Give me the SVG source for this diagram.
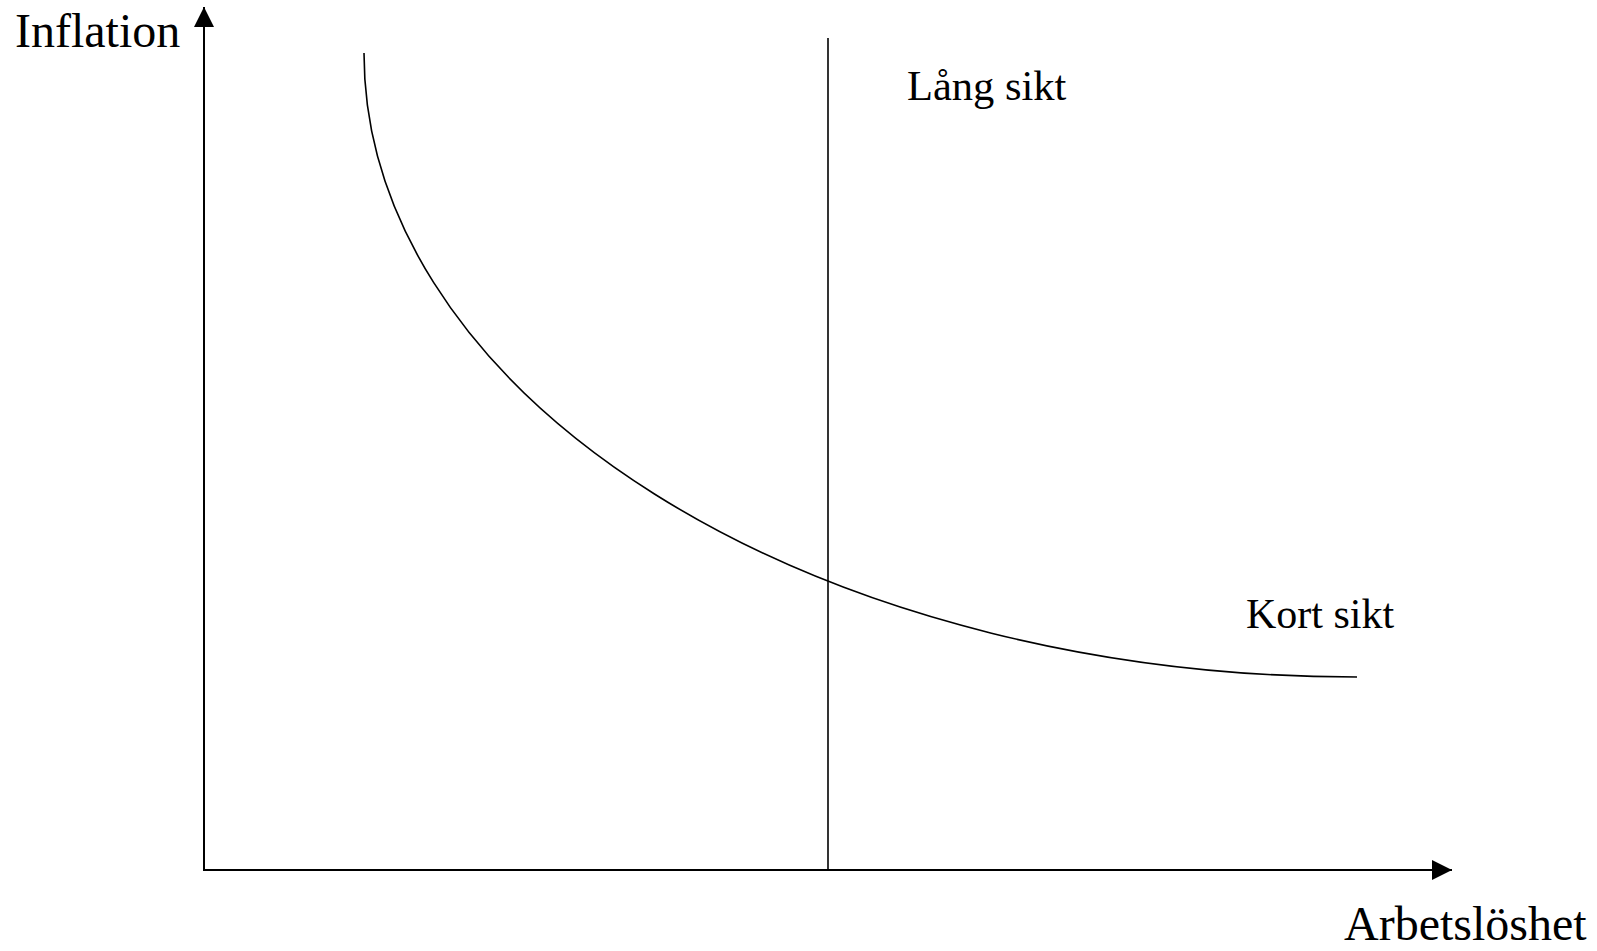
<svg xmlns="http://www.w3.org/2000/svg" width="1597" height="951" viewBox="0 0 1597 951">
<style>
.ax{stroke:#000;stroke-width:2;fill:none}
.ln{stroke:#000;stroke-width:1.6;fill:none}
.t{font-family:"Liberation Serif","Times New Roman",serif;fill:#000}
</style>
<defs>
<marker id="ah" markerWidth="20" markerHeight="20" refX="20" refY="10" orient="auto" markerUnits="userSpaceOnUse">
<path d="M0,0 L20,10 L0,20 Z" fill="#000"/>
</marker>
</defs>
<rect width="1597" height="951" fill="#fff"/>
<g id="connectors">
<path id="y-axis" class="ax" d="M204,870 L204,7" marker-end="url(#ah)"/>
<path id="x-axis" class="ax" d="M203,870 L1452,870" marker-end="url(#ah)"/>
</g>
<g id="long-run">
<path class="ln" d="M828,38 L828,870"/>
<text class="t" x="907" y="100" font-size="42.5">Lång sikt</text>
</g>
<g id="short-run">
<path class="ln" d="M364,53 A993,624 0 0 0 1357,677"/>
<text class="t" x="1246" y="628" font-size="42">Kort sikt</text>
</g>
<g id="label-inflation">
<text class="t" x="15" y="47" font-size="48">Inflation</text>
</g>
<g id="label-arbetsloshet">
<text class="t" x="1344" y="940" font-size="48">Arbetslöshet</text>
</g>
</svg>
